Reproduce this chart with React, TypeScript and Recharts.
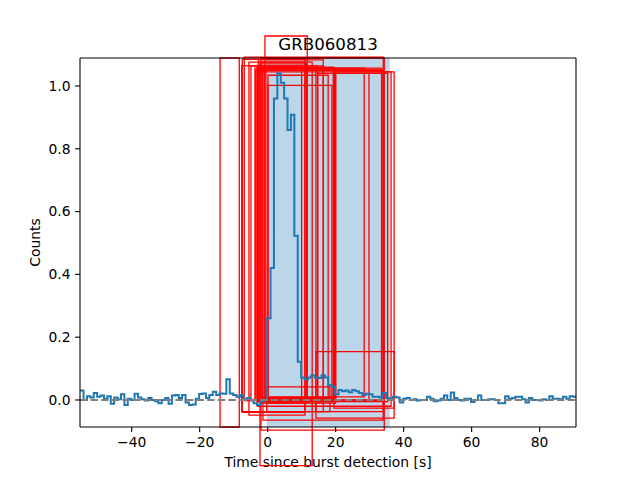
import React from 'react';
import { LineChart, Line, XAxis, YAxis, ReferenceArea, ReferenceLine } from 'recharts';

const title = 'GRB060813';
const xLabel = 'Time since burst detection [s]';
const yLabel = 'Counts';
const xTicks = [-40, -20, 0, 20, 40, 60, 80];
const yTicks = [0, 0.2, 0.4, 0.6, 0.8, 1.0];
const xDomain: [number, number] = [-55.2, 90.7];
const yDomain: [number, number] = [-0.086, 1.089];

// light curve: 1 s bins, first bin starts at -55.15 s
const binStart = -55.15;
const binWidth = 1;
const counts = [
  0.030, 0.000, 0.012, 0.008, 0.022, 0.010, 0.014, 0.004, 0.012, -0.012,
  0.008, 0.002, 0.018, -0.016, 0.004, 0.000, 0.020, 0.008, 0.002, -0.002,
  0.006, 0.000, -0.004, -0.010, 0.000, 0.006, -0.012, 0.014, 0.016, 0.006,
  0.016, -0.008, -0.016, -0.014, 0.004, 0.019, 0.021, 0.006, 0.016, 0.026,
  0.016, 0.021, 0.020, 0.066, 0.021, 0.016, 0.010, 0.016, 0.002, 0.006,
  -0.002, -0.010, -0.016, -0.004, 0.000,
  0.26, 0.42, 0.96, 1.04, 1.01, 0.96, 0.86, 0.908, 0.523, 0.122,
  0.072, 0.066, 0.072, 0.079, 0.072, 0.070, 0.079, 0.072, 0.048, 0.042,
  0.018, 0.032, 0.028, 0.030, 0.025, 0.032, 0.028, 0.022, 0.016, 0.020,
  0.018, 0.010, 0.010, 0.008, 0.022, 0.006, 0.002, 0.010, 0.008, -0.008,
  0.004, 0.006, 0.000, 0.002, -0.002, 0.000, 0.000, 0.010, 0.004, -0.004,
  -0.002, 0.004, 0.014, 0.000, 0.024, 0.006, 0.000, -0.002, 0.004, 0.004,
  -0.006, 0.000, 0.014, 0.000, 0.000, 0.002, 0.002, 0.000, -0.010, -0.010,
  0.012, 0.004, 0.006, 0.010, 0.010, 0.002, -0.008, 0.006, 0.000, 0.000,
  -0.002, 0.002, 0.000, 0.012, 0.004, 0.004, 0.002, 0.010, 0.004, 0.012,
  0.010,
];

// shaded burst interval [start, end]
const burstSpan = [-0.3, 35.9];

// red boxes: [tStart, tEnd, low, high]
const boxes: [number, number, number, number][] = [
  [-14.0, -8.35, -0.086, 1.089],
  [-0.8, 11.65, -0.004, 1.159],
  [-2.26, 13.1, -0.209, 1.076],
  [14.2, 37.2, -0.058, 0.154],
  [-7.47, 10.97, -0.039, 1.085],
  [-6.88, 34.0, -0.002, 1.092],
  [-1.97, 34.3, -0.096, 1.089],
  [-2.76, 16.35, -0.006, 1.083],
  [-5.5, 10.97, -0.048, 1.076],
  [-7.65, 16.35, -0.037, 1.064],
  [-4.91, 14.7, 0.002, 1.064],
  [-1.38, 34.0, -0.064, 1.051],
  [-3.74, 33.5, 0.0, 1.057],
  [0.09, 17.8, 0.004, 1.034],
  [0.09, 18.9, 0.008, 1.002],
  [14.2, 34.0, -0.037, 1.05],
  [19.5, 37.2, -0.026, 1.045],
  [14.7, 35.3, -0.005, 1.04],
  [-0.29, 18.3, -0.037, 0.042],
  [-3.15, 10.0, -0.006, 1.06],
  [-2.5, 28.4, 0.01, 1.057],
  [-3.5, 29.8, 0.0, 1.05],
  [-0.5, 20.0, -0.01, 1.057],
  [-1.0, 19.3, -0.005, 1.06],
  [-3.0, 36.3, -0.02, 1.045],
  [-2.0, 11.47, -0.01, 1.07],
  [-1.6, 20.0, 0.005, 1.055],
  [-2.9, 19.6, -0.003, 1.058],
];

const data = [
  ...counts.map((c, i) => ({ t: binStart + i * binWidth, c })),
  { t: binStart + counts.length * binWidth, c: counts[counts.length - 1] },
];

const FONT = 'DejaVu Sans, sans-serif';
const fmtX = (v: number) => (v < 0 ? '\u2212' + Math.abs(v) : String(v));
const fmtY = (v: number) => v.toFixed(1);

export default function App() {
  return (
    <div style={{ width: 640, height: 480, background: '#fff' }}>
      <style>{`body{margin:0}`}</style>
      <LineChart
        width={640}
        height={480}
        data={data}
        margin={{ top: 58, right: 64, bottom: 13, left: 30 }}
      >
        <XAxis
          dataKey="t"
          type="number"
          domain={xDomain}
          allowDataOverflow
          ticks={xTicks}
          tickFormatter={fmtX}
          height={40}
          tickSize={4.9}
          tickMargin={5.5}
          tick={{ fill: '#000', fontSize: 13.89, fontFamily: FONT }}
          tickLine={{ stroke: '#000', strokeWidth: 1.1 }}
          axisLine={{ stroke: '#000', strokeWidth: 1.1 }}
        />
        <YAxis
          type="number"
          domain={yDomain}
          allowDataOverflow
          ticks={yTicks}
          tickFormatter={fmtY}
          width={50}
          tickSize={4.9}
          tickMargin={4.5}
          tick={{ fill: '#000', fontSize: 13.89, fontFamily: FONT }}
          tickLine={{ stroke: '#000', strokeWidth: 1.1 }}
          axisLine={{ stroke: '#000', strokeWidth: 1.1 }}
        />
        <ReferenceArea
          x1={burstSpan[0]}
          x2={burstSpan[1]}
          y1={yDomain[0]}
          y2={yDomain[1]}
          fill="#1f77b4"
          fillOpacity={0.3}
          stroke="none"
          ifOverflow="hidden"
        />
        {boxes.map((b, i) => (
          <ReferenceArea
            key={i}
            x1={b[0]}
            x2={b[1]}
            y1={b[2]}
            y2={b[3]}
            fill="none"
            fillOpacity={0}
            stroke="#ff0000"
            strokeWidth={1.3}
            ifOverflow="visible"
          />
        ))}
        <Line
          type="stepAfter"
          dataKey="c"
          stroke="#1f77b4"
          strokeWidth={2}
          dot={false}
          activeDot={false}
          isAnimationActive={false}
        />
        <ReferenceLine
          y={0}
          stroke="#808080"
          strokeWidth={2}
          strokeDasharray="7.4 3.2"
        />
        <ReferenceLine y={yDomain[1]} stroke="#000" strokeWidth={1.1} />
        <ReferenceLine x={xDomain[1]} stroke="#000" strokeWidth={1.1} />
        <text
          x={328}
          y={49.5}
          textAnchor="middle"
          fontFamily={FONT}
          fontSize={16.67}
          fill="#000"
        >
          {title}
        </text>
        <text
          x={328}
          y={467}
          textAnchor="middle"
          fontFamily={FONT}
          fontSize={13.89}
          fill="#000"
        >
          {xLabel}
        </text>
        <text
          x={40}
          y={242.5}
          textAnchor="middle"
          fontFamily={FONT}
          fontSize={13.89}
          fill="#000"
          transform="rotate(-90, 40, 242.5)"
        >
          {yLabel}
        </text>
      </LineChart>
    </div>
  );
}
